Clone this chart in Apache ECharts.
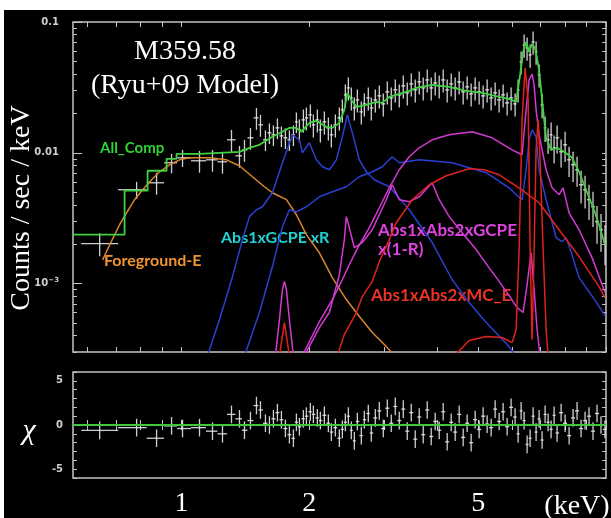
<!DOCTYPE html>
<html><head><meta charset="utf-8">
<script src="https://cdn.jsdelivr.net/npm/echarts@6/dist/echarts.min.js"></script>
<style>html,body{margin:0;padding:0;background:#fff;}#c{position:absolute;left:4px;top:10px;width:607px;height:508px;background:#000;}</style>
</head><body><div id="c"></div><script>
// ---- axis ranges and tick labels ----
const X_MIN = 0.555, X_MAX = 10;
const Y_MIN = 3e-4, Y_MAX = 0.1;
const xTicks = [0.6,0.7,0.8,0.9,1,2,3,4,5,6,7,8,9,10];
const xLabels = [1,2,5];
const yMinorTicks = [0.0003,0.0004,0.0005,0.0006,0.0007,0.0008,0.0009,0.002,0.003,0.004,0.005,0.006,0.007,0.008,0.009,0.02,0.03,0.04,0.05,0.06,0.07,0.08,0.09];
const yMajorTicks = [0.001,0.01,0.1];
const chiTicks = [-6,-5,-4,-3,-2,-1,0,1,2,3,4,5,6];
const chiLabels = [-5,0,5];

// ---- observed spectrum (keV, counts/s/keV, fractional error) ----
const dataE = [0.6414,0.7837,0.8733,0.9473,1.0054,1.1024,1.1829,1.2488,1.3112,1.3693,1.4069,1.4534,1.5014,1.5343,1.5764,1.6109,1.6462,1.6822,1.7191,1.7567,1.7952,1.8346,1.8646,1.8952,1.9367,1.9685,2.0116,2.0446,2.0893,2.1235,2.1701,2.2176,2.2539,2.3034,2.3538,2.3924,2.4316,2.4715,2.5119,2.5531,2.5950,2.6518,2.6953,2.7542,2.7994,2.8608,2.9234,2.9875,3.0529,3.1198,3.1881,3.2580,3.3293,3.4022,3.4768,3.5529,3.6308,3.7103,3.7915,3.8746,3.9594,4.0461,4.1348,4.2253,4.3179,4.4124,4.5091,4.6078,4.7087,4.8119,4.9173,5.0250,5.1351,5.2481,5.3630,5.4805,5.6004,5.7231,5.8485,5.9766,6.1075,6.2077,6.3096,6.4130,6.5183,6.6252,6.7339,6.8444,6.9566,7.0707,7.1867,7.3046,7.4245,7.5463,7.6701,7.8381,8.0097,8.1852,8.3645,8.5477,8.7349,8.9262,9.1201,9.3200,9.5242,9.7328,9.9460];
const dataV = [0.00202,0.00522,0.00590,0.00839,0.00916,0.00869,0.00884,0.00854,0.01257,0.00949,
0.01054,0.01302,0.01850,0.01636,0.01257,0.01421,0.01372,0.01551,0.01348,0.01302,
0.01257,0.01372,0.01724,0.01498,0.01786,0.01850,0.01950,0.01636,0.01786,0.01498,
0.01724,0.01551,0.01372,0.01636,0.01850,0.02130,0.02773,0.03135,0.02629,0.02206,
0.02539,0.02056,0.02366,0.02629,0.02206,0.02539,0.02724,0.02366,0.02923,0.02629,
0.03028,0.02773,0.03247,0.02872,0.03363,0.03028,0.03483,0.03135,0.03607,0.03135,
0.03422,0.03247,0.03607,0.03028,0.03363,0.03135,0.03483,0.02923,0.03191,0.02822,
0.03135,0.02923,0.02724,0.03028,0.02629,0.02872,0.02539,0.02773,0.02408,0.02629,
0.02366,0.03028,0.04951,0.06674,0.06331,0.05598,0.07037,0.05902,0.03939,0.02325,
0.01551,0.01257,0.01372,0.01092,0.01302,0.01018,0.01151,0.00884,0.00810,0.00742,
0.00570,0.00522,0.00438,0.00387,0.00297,0.00258,0.00209];
const dataErr = [0.20,0.15,0.19,0.17,0.15,0.19,0.19,0.19,
0.19,0.19,0.19,0.19,0.19,0.19,
0.18,0.18,0.18,0.18,0.18,0.18,0.18,0.18,0.18,
0.2,0.2,0.2,0.2,0.2,0.2,0.2,0.2,0.2,0.2,0.2,0.2,0.2,0.2,0.2,0.2,0.2,0.2,0.2,0.2,
0.2,0.2,0.2,0.2,0.2,0.2,0.2,0.2,0.2,0.2,0.2,0.2,0.2,0.2,0.2,0.2,0.2,0.2,0.2,0.2,
0.2,0.2,0.2,0.2,0.2,0.2,0.2,0.2,0.2,0.2,0.2,0.2,0.2,0.2,0.2,0.2,0.2,0.2,
0.2,0.2,0.2,0.2,0.2,0.2,0.2,0.2,
0.21,0.22,0.22,0.24,0.24,0.24,0.24,0.26,0.26,0.26,0.26,0.28,0.28,0.3,0.3,0.32,0.32,0.34];
const chi = [-0.6,-0.3,-1.5,-0.1,-0.4,-0.3,-0.7,-1.0,1.2,0.7,
-0.6,0.5,2.2,1.7,0.2,0.0,0.7,1.4,0.6,-0.4,
-1.1,-1.5,0.3,-0.2,0.7,1.0,1.5,1.2,0.8,0.5,
1.1,0.2,-0.8,-0.3,-1.5,-0.5,0.3,1.0,-0.6,-1.8,
0.4,-1.2,0.6,1.3,-0.9,0.8,1.6,-0.4,1.9,0.2,
2.1,0.5,1.8,-0.7,1.4,-1.6,0.9,-1.1,1.7,-1.3,
0.4,-0.6,1.5,-1.9,0.3,-0.8,1.2,-1.4,0.2,-2.0,
0.6,-0.5,1.0,0.1,-0.3,1.8,0.4,1.5,-0.2,2.0,
0.9,-1.0,1.6,0.5,-2.2,-1.5,1.0,-0.8,0.7,-1.7,
1.2,0.3,-0.5,1.1,-0.9,1.4,0.2,-1.2,0.8,1.6,
-0.4,0.5,1.0,-0.7,1.3,0.0,-0.5];

// ---- model components ----
const allE = [0.555,0.7342,0.7342,0.8318,0.8318,0.9220,0.9220,0.9733,0.9733,1.1024,1.3693,1.4454,1.5260,1.6373,1.7285,1.7952,1.8646,1.9158,2.0007,2.0781,2.1937,2.2662,2.3538,2.4184,2.4581,2.5119,2.5810,2.7246,2.8762,2.9713,3.0862,3.2580,3.4393,3.5722,3.8956,4.2714,4.6833,5.1074,5.6004,5.9121,6.1407,6.2755,6.3783,6.4832,6.5895,6.6974,6.8072,6.9566,7.1093,7.2260,7.4245,7.6701,7.9664,8.3176,8.6409,8.9745,9.3697,9.6280,9.946];
const allV = [0.00237,0.00237,0.00513,0.00513,0.00729,0.00729,0.00900,0.00900,0.00983,0.00983,0.01018,0.01092,0.01151,0.01325,0.01447,0.01551,0.01551,0.01447,0.01694,0.01755,0.01579,0.01551,0.01694,0.02130,0.02872,0.02539,0.02245,0.02325,0.02451,0.02408,0.02676,0.02822,0.02972,0.03135,0.03304,0.03191,0.02972,0.02872,0.02676,0.02584,0.02451,0.03939,0.05902,0.07037,0.05902,0.06793,0.06331,0.04300,0.02130,0.01302,0.01054,0.01092,0.01018,0.00916,0.00716,0.00522,0.00367,0.00282,0.00198];
const fgE = [0.6519,0.6771,0.7147,0.7422,0.7750,0.8096,0.8500,0.8876,0.9371,0.9892,1.0443,1.1638,1.2759,1.3693,1.4690,1.5679,1.6373,1.7664,1.8646,1.9685,2.1120,2.2662,2.4448,2.6232,2.8146,3.0037,3.1198,3.2580];
const fgV = [0.00152,0.00198,0.00282,0.00348,0.00438,0.00522,0.00622,0.00716,0.00810,0.00884,0.00916,0.00916,0.00884,0.00796,0.00656,0.00550,0.00495,0.00438,0.00336,0.00237,0.00172,0.00111,0.000755,0.000560,0.000423,0.000342,0.00030,0.00025];
const b1E = [1.1513,1.2286,1.3183,1.3918,1.4454,1.5014,1.5510,1.6373,1.7285,1.8247,1.8952,1.9262,2.0007,2.0781,2.1466,2.2297,2.3159,2.3924,2.4581,2.5256,2.6232,2.7246,2.8453,3.0862,3.4393,3.8956,4.3414,4.7601,5.2193,5.9121,6.1075];
const b1V = [0.00028,0.000531,0.00113,0.00217,0.00325,0.00367,0.00387,0.00495,0.00839,0.01372,0.01257,0.0100,0.01193,0.00884,0.00782,0.00742,0.00884,0.01325,0.01950,0.01421,0.00884,0.00716,0.00622,0.00550,0.00367,0.00206,0.00107,0.000716,0.000504,0.000330,0.00028];
const b2E = [1.4069,1.5260,1.6373,1.7285,1.7952,1.8646,1.9685,2.1120,2.2662,2.4448,2.6232,2.8146,2.9713,3.1368,3.2580,3.6308,4.3414,5.2193,5.9121,6.1407,6.3438,6.4832,6.5895,6.6974,6.8444,6.9566,7.2260,7.6285,7.8804,8.0531,8.2745,8.6409,9.4724,9.946];
const b2V = [0.00028,0.000601,0.00135,0.00272,0.00367,0.00354,0.00387,0.00461,0.00504,0.00550,0.00656,0.00716,0.00782,0.00932,0.00839,0.00884,0.00839,0.00704,0.00540,0.00478,0.00438,0.00742,0.01257,0.01498,0.01325,0.00742,0.00438,0.00224,0.00209,0.00224,0.00175,0.00111,0.000729,0.00057];
const m1E = [1.9262,2.1120,2.2662,2.3924,2.4849,2.6232,2.7692,2.9234,3.0862,3.2580,3.4393,3.6308,3.8956,4.2714,4.8382,5.3921,6.0090,6.3438,6.4832,6.5895,6.6974,6.7705,6.8444,6.9566,7.2260,7.4649,7.7533,7.9232,8.1852,8.6409,9.2696,9.946];
const m1V = [0.00028,0.000513,0.000755,0.00107,0.00140,0.00198,0.00268,0.00380,0.00540,0.00742,0.00932,0.01092,0.01257,0.01372,0.01447,0.01302,0.01054,0.00966,0.02130,0.03607,0.04000,0.03304,0.02130,0.01372,0.00742,0.00540,0.00478,0.00540,0.00348,0.00258,0.00158,0.000854];
const m2E = [1.6641,1.7006,1.7285,1.7473,1.7664,1.7952,1.8346,1.9472,2.1120,2.2297,2.3538,2.4184,2.4448,2.4849,2.5531,2.6662,2.8146,3.0364,3.1368,3.2580,3.4393,3.6308,3.8956,4.0461,4.2714,4.5829,4.9443,5.3052,5.6004,5.9121,6.1740,6.3783,6.5183,6.6613,6.7705,6.8813,6.9946];
const m2V = [0.00028,0.000531,0.000900,0.00104,0.000900,0.000531,0.00028,0.00028,0.000461,0.000601,0.00117,0.00217,0.00325,0.00268,0.00188,0.00206,0.00258,0.00438,0.00570,0.00438,0.00423,0.00461,0.00590,0.00438,0.00325,0.00245,0.00182,0.00132,0.00104,0.000810,0.000656,0.000601,0.000983,0.00172,0.000900,0.000446,0.00028];
const r1E = [2.3284,2.4184,2.5810,2.6662,2.8146,2.9234,3.0862,3.2055,3.4957,3.8328,4.2025,4.7601,5.1630,5.6004,6.2416,6.9566,7.7533,8.6409,9.6280,9.946];
const r1V = [0.00028,0.000408,0.000601,0.000796,0.00104,0.00147,0.00217,0.00292,0.00438,0.00570,0.00668,0.00755,0.00742,0.00679,0.00540,0.00415,0.00258,0.00161,0.000949,0.000782];
const r2E = [1.7006,1.7473,1.7952,4.3887,4.7601,5.2193,5.6921,6.0090,6.1407,6.2416,6.3438,6.4482,6.5539,6.6252,6.6974,6.7705,6.8444,6.9183,6.9946,7.1093,7.2260,7.3046];
const r2V = [0.00028,0.000504,0.00028,0.00028,0.000367,0.000394,0.000387,0.000354,0.000446,0.00182,0.01786,0.04456,0.02539,0.00182,0.000374,0.00182,0.01054,0.01786,0.00884,0.00182,0.000446,0.00028];

// ---- helpers ----
function pairs(xs, ys){ return xs.map((x,i)=>[x, ys[i]]); }
function binEdges(xs){
  const n = xs.length, lo = [], hi = [];
  for (let i = 0; i < n; i++){
    const l = i > 0 ? Math.sqrt(xs[i-1]*xs[i]) : xs[0]*xs[0]/Math.sqrt(xs[0]*xs[1]);
    const h = i < n-1 ? Math.sqrt(xs[i]*xs[i+1]) : xs[n-1]*xs[n-1]/Math.sqrt(xs[n-2]*xs[n-1]);
    lo.push(l); hi.push(h);
  }
  return [lo, hi];
}
const [eLo, eHi] = binEdges(dataE);
const dataItems = dataE.map((e,i)=>[e, dataV[i], eLo[i], eHi[i], dataV[i]*(1-dataErr[i]), dataV[i]*(1+dataErr[i])]);
const chiItems = dataE.map((e,i)=>[e, chi[i], eLo[i], eHi[i], chi[i]-1, chi[i]+1]);

function crossRender(color, w){
  return function(params, api){
    const x = api.value(0), y = api.value(1);
    const pL = api.coord([api.value(2), y]), pR = api.coord([api.value(3), y]);
    const pB = api.coord([x, api.value(4)]), pT = api.coord([x, api.value(5)]);
    const style = {stroke: color, lineWidth: w};
    return {type:'group', children:[
      {type:'line', shape:{x1:pL[0],y1:pL[1],x2:pR[0],y2:pR[1]}, style: style},
      {type:'line', shape:{x1:pB[0],y1:pB[1],x2:pT[0],y2:pT[1]}, style: style}
    ]};
  };
}
function model(E, V, color, z, w){
  return {type:'line', xAxisIndex:0, yAxisIndex:0, data: pairs(E,V), symbol:'none', showSymbol:false,
    lineStyle:{color: color, width: w || 1.5}, clip:true, silent:true, z: z};
}

const FRAME = '#c4c4c4';
const tickStyle = {color: FRAME, width: 1};
function xAx(grid, pos, labels){
  return {type:'log', logBase:10, gridIndex:grid, position:pos, min:X_MIN, max:X_MAX,
    axisLine:{show:false}, splitLine:{show:false},
    axisTick:{show:true, inside:true, length:5, customValues:xTicks, lineStyle:tickStyle},
    axisLabel: labels ? {show:true, customValues:xLabels, color:'#fff', fontSize:28, fontFamily:'"Liberation Serif", serif', margin:12,
      formatter: v => String(Math.round(v))} : {show:false}};
}
function yAx(pos, ticks, len, labels){
  return {type:'log', logBase:10, gridIndex:0, position:pos, min:Y_MIN, max:Y_MAX,
    axisLine:{show:false}, splitLine:{show:false},
    axisTick:{show:true, inside:true, length:len, customValues:ticks, lineStyle:tickStyle},
    axisLabel: labels ? {show:true, customValues:yMajorTicks, color:'#cfcfcf', fontSize:10, fontWeight:'bold',
      fontFamily:'"DejaVu Sans", sans-serif', margin:14,
      formatter: v => { const p = Math.round(Math.log10(v)); return p === -1 ? '0.1' : p === -2 ? '0.01' : '{a|10}{b|\u2212' + (-p) + '}'; },
      rich:{a:{color:'#cfcfcf', fontSize:10, fontWeight:'bold', fontFamily:'"DejaVu Sans", sans-serif'},
            b:{color:'#cfcfcf', fontSize:7, fontWeight:'bold', verticalAlign:'top', padding:[0,0,6,0], fontFamily:'"DejaVu Sans", sans-serif'}}} : {show:false}};
}
function chiAx(pos, labels){
  return {type:'value', gridIndex:1, position:pos, min:-6, max:6,
    axisLine:{show:false}, splitLine:{show:false},
    axisTick:{show:true, inside:true, length:4, customValues:chiTicks, lineStyle:tickStyle},
    axisLabel: labels ? {show:true, customValues:chiLabels, color:'#cfcfcf', fontSize:10, fontWeight:'bold',
      fontFamily:'"DejaVu Sans", sans-serif', margin:10} : {show:false}};
}

const LBL = 'bold 16px Lato, sans-serif';
const chart = echarts.init(document.getElementById('c'), null, {renderer:'canvas'});
chart.setOption({
  animation:false,
  backgroundColor:'#000',
  grid:[
    {left:69, top:12, width:533, height:330, show:true, borderColor:FRAME, borderWidth:1.5, backgroundColor:'transparent'},
    {left:69, top:362, width:533, height:115, show:true, borderColor:FRAME, borderWidth:1.5, backgroundColor:'transparent'}
  ],
  xAxis:[ xAx(0,'bottom',false), xAx(0,'top',false), xAx(1,'bottom',true), xAx(1,'top',false) ],
  yAxis:[ yAx('left', yMinorTicks, 4, true), yAx('left', yMajorTicks, 9, false), yAx('right', yMinorTicks.concat(yMajorTicks), 4, false),
          chiAx('left', true), chiAx('right', false) ],
  series:[
    {type:'custom', xAxisIndex:0, yAxisIndex:0, data:dataItems, encode:{x:0, y:1}, renderItem:crossRender('rgba(230,230,230,0.9)', 1.3), clip:true, silent:true, z:1},
    model(fgE, fgV, '#d9862e', 3),
    model(b1E, b1V, '#2a40d0', 3),
    model(b2E, b2V, '#2a40d0', 3),
    model(m1E, m1V, '#d23ad2', 4),
    model(m2E, m2V, '#d23ad2', 4),
    model(r1E, r1V, '#e0231e', 4),
    model(r2E, r2V, '#e0231e', 4),
    model(allE, allV, '#3ed23e', 6, 1.8),
    {type:'custom', xAxisIndex:2, yAxisIndex:3, data:chiItems, encode:{x:0, y:1}, renderItem:crossRender('rgba(230,230,230,0.9)', 1.3), clip:true, silent:true, z:1,
      markLine:{silent:true, symbol:'none', label:{show:false}, lineStyle:{color:'#3ec83e', width:2, type:'solid'}, data:[{yAxis:0}]}}
  ],
  graphic:[
    {type:'text', x:18, y:198, rotation:Math.PI/2, style:{text:'Counts / sec / keV', fill:'#fff', font:'28px "Liberation Serif", serif', textAlign:'center', textVerticalAlign:'middle'}},
    {type:'text', x:181, y:42, style:{text:'M359.58', fill:'#fff', font:'28px "Liberation Serif", serif', textAlign:'center', textVerticalAlign:'middle'}},
    {type:'text', x:181, y:76, style:{text:'(Ryu+09 Model)', fill:'#fff', font:'28px "Liberation Serif", serif', textAlign:'center', textVerticalAlign:'middle'}},
    {type:'text', x:96, y:138, style:{text:'All_Comp', fill:'#2fd42f', font:'bold 15px Lato, sans-serif', textAlign:'left', textVerticalAlign:'middle'}},
    {type:'text', x:100, y:251, style:{text:'Foreground-E', fill:'#ee9530', font:LBL, textAlign:'left', textVerticalAlign:'middle'}},
    {type:'text', x:217, y:228, style:{text:'Abs1xGCPE xR', fill:'#22d2d2', font:LBL, textAlign:'left', textVerticalAlign:'middle'}},
    {type:'text', x:374, y:221, style:{text:'Abs1xAbs2xGCPE', fill:'#e042e0', font:'bold 17px Lato, sans-serif', textAlign:'left', textVerticalAlign:'middle'}},
    {type:'text', x:374, y:240, style:{text:'x(1-R)', fill:'#e042e0', font:'bold 17px Lato, sans-serif', textAlign:'left', textVerticalAlign:'middle'}},
    {type:'text', x:367, y:286, style:{text:'Abs1xAbs2xMC_E', fill:'#ea3424', font:'bold 17px Lato, sans-serif', textAlign:'left', textVerticalAlign:'middle'}},
    {type:'text', x:25, y:421, style:{text:'\u03c7', fill:'#fff', font:'italic 30px "Liberation Serif", serif', textAlign:'center', textVerticalAlign:'middle'}},
    {type:'text', x:573, y:497, style:{text:'(keV)', fill:'#fff', font:'28px "Liberation Serif", serif', textAlign:'center', textVerticalAlign:'middle'}}
  ]
});
</script></body></html>
